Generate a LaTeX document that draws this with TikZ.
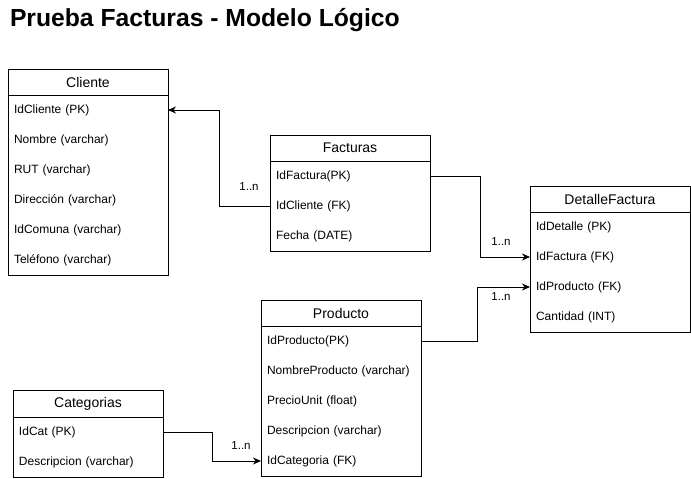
\documentclass[tikz,border=0pt]{standalone}
\usepackage{fontspec}
\setmainfont{Liberation Sans}
\usetikzlibrary{positioning,arrows.meta}

\begin{document}
\begin{tikzpicture}[x=1pt,y=-1pt,>={Stealth[length=8pt,width=7pt]},
	every node/.style={inner sep=0pt,outer sep=0pt},
	tabhead/.style={draw,line width=1pt,minimum width=160pt,minimum height=26pt,
		font=\fontsize{14}{16}\selectfont},
	field/.style={minimum width=160pt,minimum height=30pt,text width=148pt,
		align=left,font=\fontsize{12}{14}\selectfont},
	card/.style={font=\fontsize{11.5}{13}\selectfont},
	link/.style={line width=1pt,->}]
	\useasboundingbox (0,0) rectangle (691,479);

	% title
	\node[anchor=base west,font=\bfseries\fontsize{24.7}{28}\selectfont] (title) at (10,27)
		{Prueba Facturas - Modelo Lógico};

	% create the tables.
	\node[tabhead] (cli) at (88,82) {Cliente};
	\node[field,below=0pt of cli] (cli1) {IdCliente (PK)};
	\node[field,below=0pt of cli1] (cli2) {Nombre (varchar)};
	\node[field,below=0pt of cli2] (cli3) {RUT (varchar)};
	\node[field,below=0pt of cli3] (cli4) {Dirección (varchar)};
	\node[field,below=0pt of cli4] (cli5) {IdComuna (varchar)};
	\node[field,below=0pt of cli5] (cli6) {Teléfono (varchar)};
	\draw[line width=1pt] (cli.north west) rectangle (cli6.south east);

	\node[tabhead] (fac) at (350,148) {Facturas};
	\node[field,below=0pt of fac] (fac1) {IdFactura(PK)};
	\node[field,below=0pt of fac1] (fac2) {IdCliente (FK)};
	\node[field,below=0pt of fac2] (fac3) {Fecha (DATE)};
	\draw[line width=1pt] (fac.north west) rectangle (fac3.south east);

	\node[tabhead] (det) at (610,199) {DetalleFactura};
	\node[field,below=0pt of det] (det1) {IdDetalle (PK)};
	\node[field,below=0pt of det1] (det2) {IdFactura (FK)};
	\node[field,below=0pt of det2] (det3) {IdProducto (FK)};
	\node[field,below=0pt of det3] (det4) {Cantidad (INT)};
	\draw[line width=1pt] (det.north west) rectangle (det4.south east);

	\node[tabhead] (pro) at (341,313) {Producto};
	\node[field,below=0pt of pro] (pro1) {IdProducto(PK)};
	\node[field,below=0pt of pro1] (pro2) {NombreProducto (varchar)};
	\node[field,below=0pt of pro2] (pro3) {PrecioUnit (float)};
	\node[field,below=0pt of pro3] (pro4) {Descripcion (varchar)};
	\node[field,below=0pt of pro4] (pro5) {IdCategoria (FK)};
	\draw[line width=1pt] (pro.north west) rectangle (pro5.south east);

	\node[tabhead,minimum width=150pt,minimum height=27pt] (cat) at (88,403.5) {Categorias};
	\node[field,minimum width=150pt,text width=138pt,below=0pt of cat] (cat1) {IdCat (PK)};
	\node[field,minimum width=150pt,text width=138pt,below=0pt of cat1] (cat2) {Descripcion (varchar)};
	\draw[line width=1pt] (cat.north west) rectangle (cat2.south east);

	% connect the tables
	\draw[link] (fac2.west) -- ++(-51,0) |- (cli1.east);
	\draw[link] (fac1.east) -- ++(50,0) |- (det2.west);
	\draw[link] (pro1.east) -- ++(56,0) |- (det3.west);
	\draw[link] (cat1.east) -- ++(49,0) |- (pro5.west);

	\node[card] (card1) at (249,187) {1..n};
	\node[card] (card2) at (501,242) {1..n};
	\node[card] (card3) at (501,297) {1..n};
	\node[card] (card4) at (241,446) {1..n};
\end{tikzpicture}
\end{document}
